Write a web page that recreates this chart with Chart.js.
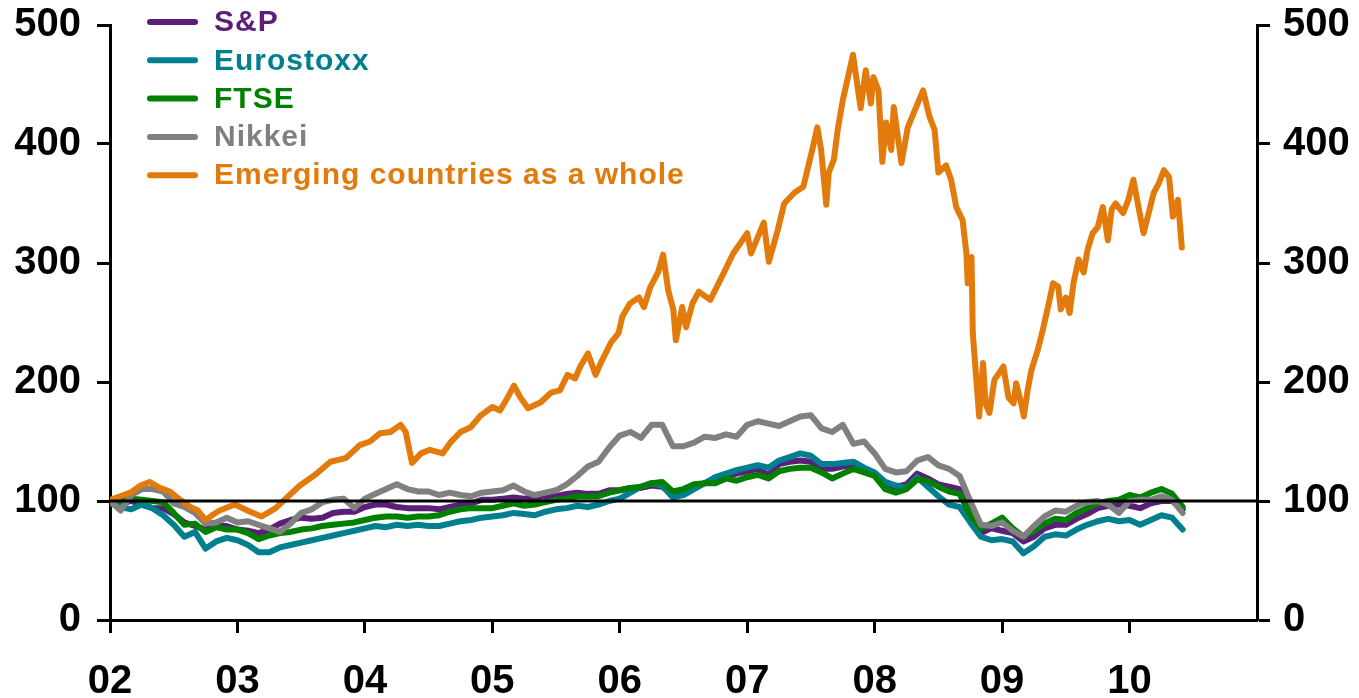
<!DOCTYPE html>
<html><head><meta charset="utf-8">
<script src="https://cdn.jsdelivr.net/npm/chart.js@4.4.1/dist/chart.umd.min.js"></script>
<style>html,body{margin:0;padding:0;background:#fff;overflow:hidden}</style>
</head><body>
<canvas id="c" width="1359" height="698"></canvas>
<script>
// ---------- DATA ----------
const seriesNames = ['S&P', 'Eurostoxx', 'FTSE', 'Nikkei', 'Emerging countries as a whole'];
const seriesColors = ['#5b1f79', '#00808f', '#008000', '#808080', '#e27b0b'];

// monthly dates (Jan 2002 .. Jun 2010) for the developed-market indices
const monthStart = 2002, monthCount = 102;
const monthDates = Array.from({length: monthCount}, (_, k) => monthStart + k / 12);

const spValues = [100,98,100,97,94,94,89,82,79,76,79,79,76,75,73,76,81,84,86,85,86,90,91,91,95,97,97,95,94,94,94,93,95,97,98,101,101,102,103,102,103,104,104,106,107,106,106,109,109,111,111,113,112,105,106,112,115,118,121,123,125,127,122,131,133,134,133,127,127,129,130,126,122,114,112,114,123,119,114,112,110,95,73,77,75,73,66,70,77,80,80,85,89,94,96,97,96,94,98,100,100,93];
const eurostoxxValues = [98,95,93,97,94,88,80,70,74,60,66,69,67,63,57,57,61,63,65,67,69,71,73,75,77,79,78,80,79,80,79,79,81,83,84,86,87,88,90,89,88,91,93,94,96,95,97,100,102,107,112,115,113,103,105,110,115,120,123,126,128,130,128,134,137,140,138,131,131,132,133,128,124,116,113,111,120,112,104,97,95,82,70,67,68,66,56,62,70,72,71,76,80,83,85,83,84,80,84,88,86,76];
const ftseValues = [100,100,102,101,100,99,90,80,81,74,78,76,76,73,68,71,73,74,76,77,79,80,81,82,84,86,87,87,86,87,87,88,91,93,94,94,94,96,98,96,97,99,101,102,104,104,104,107,109,111,112,115,116,108,110,114,115,115,119,117,120,122,119,125,127,128,128,124,119,123,127,124,121,110,107,110,118,117,112,108,106,88,77,81,86,77,70,75,81,85,84,90,94,98,100,101,105,103,107,110,106,95];
const nikkeiValues = [100,92,105,110,110,108,98,95,90,81,82,86,82,83,80,77,74,81,90,93,99,101,102,94,102,106,110,114,110,108,108,105,107,105,104,107,108,109,113,108,105,107,109,114,121,129,133,145,155,158,153,164,164,146,146,149,154,153,156,154,164,167,165,163,167,171,172,161,158,164,148,150,140,127,124,125,134,137,130,127,121,100,80,79,82,75,70,79,87,92,91,96,99,100,97,90,100,101,101,104,101,90];

// emerging markets traced at a finer (irregular) date step
const emDates = [2002.00,2002.08,2002.16,2002.24,2002.31,2002.39,2002.47,2002.55,2002.63,2002.69,2002.75,2002.80,2002.86,2002.98,2003.10,2003.19,2003.30,2003.41,2003.49,2003.61,2003.73,2003.85,2003.96,2004.04,2004.12,2004.20,2004.28,2004.32,2004.37,2004.44,2004.51,2004.61,2004.67,2004.75,2004.83,2004.91,2005.00,2005.06,2005.12,2005.17,2005.22,2005.28,2005.38,2005.46,2005.53,2005.59,2005.65,2005.69,2005.75,2005.81,2005.86,2005.93,2005.99,2006.02,2006.08,2006.15,2006.19,2006.24,2006.30,2006.34,2006.38,2006.42,2006.44,2006.49,2006.52,2006.57,2006.62,2006.71,2006.79,2006.89,2007.00,2007.03,2007.13,2007.17,2007.24,2007.29,2007.37,2007.44,2007.51,2007.55,2007.58,2007.62,2007.64,2007.68,2007.71,2007.75,2007.79,2007.83,2007.85,2007.89,2007.93,2007.97,2007.99,2008.03,2008.06,2008.09,2008.13,2008.15,2008.21,2008.26,2008.31,2008.38,2008.43,2008.47,2008.50,2008.56,2008.60,2008.64,2008.69,2008.72,2008.73,2008.76,2008.77,2008.80,2008.82,2008.85,2008.87,2008.90,2008.94,2008.98,2009.01,2009.05,2009.09,2009.11,2009.15,2009.17,2009.20,2009.23,2009.28,2009.32,2009.36,2009.40,2009.44,2009.46,2009.50,2009.53,2009.56,2009.60,2009.64,2009.67,2009.71,2009.75,2009.79,2009.83,2009.86,2009.89,2009.95,2009.99,2010.03,2010.07,2010.11,2010.15,2010.19,2010.23,2010.27,2010.31,2010.34,2010.38,2010.41];
const emValues = [101,104,107,113,116,111,108,101,95,92,84,88,92,97,91,87,94,105,113,122,133,136,147,150,157,158,164,158,132,140,143,140,149,158,162,172,179,176,187,197,187,178,183,191,193,206,203,213,224,206,218,233,241,255,266,271,263,280,292,307,277,261,235,263,246,266,276,269,286,308,325,308,334,301,328,350,359,364,395,414,395,349,376,387,412,437,456,475,460,430,462,434,456,445,385,418,395,431,384,414,427,445,423,412,376,382,370,347,336,308,283,305,241,199,171,216,182,174,202,208,213,187,182,199,182,171,193,210,227,244,263,283,280,261,271,258,283,303,292,311,325,330,347,319,345,350,342,353,370,347,325,342,359,367,378,372,339,353,313];

const refLevel = 100;
const xMin = 2002, xMax = 2011;
const yMin = 0, yMax = 500, yStep = 100;

// ---------- CHART ----------
const FONT = "'Liberation Sans', Arial, sans-serif";
const toPts = (xs, ys) => ys.map((v, i) => ({x: xs[i], y: v}));
const seriesData = [
  toPts(monthDates, spValues),
  toPts(monthDates, eurostoxxValues),
  toPts(monthDates, ftseValues),
  toPts(monthDates, nikkeiValues),
  toPts(emDates, emValues)
];

const datasets = seriesNames.map((name, i) => ({
  label: name,
  data: seriesData[i],
  borderColor: seriesColors[i],
  backgroundColor: seriesColors[i],
  borderWidth: 6,
  pointRadius: 0,
  tension: 0,
  fill: false,
  borderJoinStyle: 'round',
  borderCapStyle: 'round',
  order: seriesNames.length - i
}));

const refLinePlugin = {
  id: 'refLine',
  afterDatasetsDraw(chart) {
    const {ctx, chartArea, scales} = chart;
    const y = scales.y.getPixelForValue(refLevel);
    ctx.save();
    ctx.strokeStyle = '#000';
    ctx.lineWidth = 3;
    ctx.beginPath();
    ctx.moveTo(chartArea.left, y);
    ctx.lineTo(chartArea.right, y);
    ctx.stroke();
    ctx.restore();
  }
};

const legendPlugin = {
  id: 'customLegend',
  afterDraw(chart) {
    const {ctx} = chart;
    ctx.save();
    ctx.font = "bold 30px " + FONT;
    try { ctx.letterSpacing = '1px'; } catch (e) {}
    ctx.textBaseline = 'middle';
    ctx.textAlign = 'left';
    chart.data.datasets.forEach((ds, i) => {
      const y = 22 + i * 38.3;
      ctx.strokeStyle = ds.borderColor;
      ctx.lineWidth = 6;
      ctx.lineCap = 'round';
      ctx.beginPath();
      ctx.moveTo(150, y);
      ctx.lineTo(195, y);
      ctx.stroke();
      ctx.fillStyle = ds.borderColor;
      ctx.fillText(ds.label, 214, y + 1);
    });
    ctx.restore();
  }
};

const tickFont = {family: FONT, size: 40, weight: 'bold'};
const fixY = w => s => { s.width = w; s.paddingTop = 0; s.paddingBottom = 0; };

new Chart(document.getElementById('c'), {
  type: 'line',
  data: {datasets},
  options: {
    responsive: false,
    animation: false,
    events: [],
    layout: {padding: {top: 25, bottom: 0, left: 0, right: 0}},
    plugins: {legend: {display: false}, tooltip: {enabled: false}},
    scales: {
      x: {
        type: 'linear',
        min: xMin, max: xMax,
        afterFit(s) { s.height = 78; s.paddingLeft = 0; s.paddingRight = 0; },
        afterBuildTicks(s) { s.ticks = []; for (let v = xMin; v <= xMax; v++) s.ticks.push({value: v}); },
        ticks: {
          stepSize: 1,
          autoSkip: false,
          maxRotation: 0,
          padding: 25,
          color: '#000',
          font: tickFont,
          callback: v => v < xMax ? String(v).slice(2) : ''
        },
        grid: {drawOnChartArea: false, drawTicks: true, tickLength: 13, tickWidth: 3,
               tickColor: c => (c.tick && c.tick.value === xMax) ? 'rgba(0,0,0,0)' : '#000'},
        border: {display: true, color: '#000', width: 3}
      },
      y: {
        position: 'left',
        min: yMin, max: yMax,
        afterFit: fixY(110),
        ticks: {stepSize: yStep, padding: 16, color: '#000', font: tickFont},
        grid: {drawOnChartArea: false, drawTicks: true, tickLength: 13, tickWidth: 3, tickColor: '#000'},
        border: {display: true, color: '#000', width: 3}
      },
      y2: {
        position: 'right',
        min: yMin, max: yMax,
        afterFit: fixY(102),
        ticks: {stepSize: yStep, padding: 13, color: '#000', font: tickFont},
        grid: {drawOnChartArea: false, drawTicks: true, tickLength: 13, tickWidth: 3, tickColor: '#000'},
        border: {display: true, color: '#000', width: 3}
      }
    }
  },
  plugins: [refLinePlugin, legendPlugin]
});
</script>
</body></html>
